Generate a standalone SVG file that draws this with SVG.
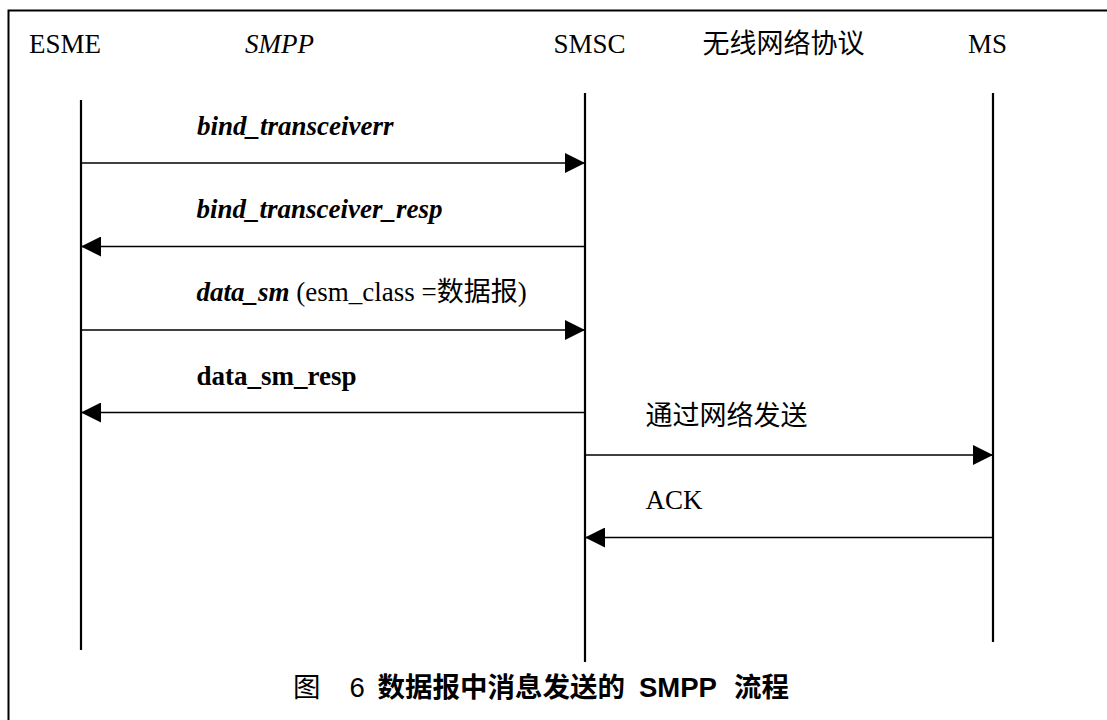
<svg xmlns="http://www.w3.org/2000/svg" width="1107" height="720" viewBox="0 0 1107 720">
  <style>
    .serif { font-family: "Liberation Serif", "Noto Sans CJK SC", serif; font-size: 27px; fill: #000; }
    .cjk { font-family: "Noto Sans CJK SC", sans-serif; font-size: 27px; fill: #000; }
    .bi { font-weight: bold; font-style: italic; }
    .b { font-weight: bold; }
    .i { font-style: italic; }
    .life { stroke: #000; stroke-width: 2.2; fill: none; }
    .msg { stroke: #000; stroke-width: 1.7; fill: none; marker-end: url(#head); }
    .caption { font-family: "Liberation Sans", "Noto Sans CJK SC", sans-serif; font-size: 27.5px; fill: #000; }
  </style>
  <defs>
    <marker id="head" markerUnits="userSpaceOnUse" markerWidth="20" markerHeight="20" refX="20" refY="10" orient="auto">
      <path d="M0,0 L20,10 L0,20 Z" fill="#000"/>
    </marker>
  </defs>

  <rect width="1107" height="720" fill="#fff"/>

  <!-- frame (top and left edges) -->
  <path d="M8.5,720 L8.5,10.5 L1107,10.5" stroke="#000" stroke-width="2" fill="none"/>

  <!-- participants -->
  <g id="esme">
    <text class="serif" x="29" y="53">ESME</text>
    <line class="life" x1="81" y1="100" x2="81" y2="650"/>
  </g>
  <g id="smpp-label">
    <text class="serif i" x="245" y="53">SMPP</text>
  </g>
  <g id="smsc">
    <text class="serif" x="553.5" y="53">SMSC</text>
    <line class="life" x1="585" y1="93" x2="585" y2="662"/>
  </g>
  <g id="radio-label">
    <text class="cjk" x="702.5" y="53">无线网络协议</text>
  </g>
  <g id="ms">
    <text class="serif" x="968" y="53">MS</text>
    <line class="life" x1="993" y1="93" x2="993" y2="642"/>
  </g>

  <!-- messages -->
  <g id="connectors">
    <line class="msg" x1="81" y1="163" x2="585" y2="163"/>
    <line class="msg" x1="585" y1="246.5" x2="81" y2="246.5"/>
    <line class="msg" x1="81" y1="330" x2="585" y2="330"/>
    <line class="msg" x1="585" y1="412.5" x2="81" y2="412.5"/>
    <line class="msg" x1="585" y1="455" x2="993" y2="455"/>
    <line class="msg" x1="993" y1="537.5" x2="585" y2="537.5"/>
  </g>

  <!-- message labels -->
  <g id="labels">
    <text class="serif bi" x="197" y="135">bind_transceiverr</text>
    <text class="serif bi" x="196.5" y="218">bind_transceiver_resp</text>
    <text class="serif" x="196.5" y="301"><tspan class="bi">data_sm</tspan> (esm_class =数据报)</text>
    <text class="serif b" x="196.5" y="385">data_sm_resp</text>
    <text class="cjk" x="645.5" y="425">通过网络发送</text>
    <text class="serif" x="645.5" y="509">ACK</text>
  </g>

  <!-- figure caption -->
  <g id="caption">
    <text class="caption" y="697"><tspan x="293">图</tspan><tspan x="349.5">6</tspan><tspan x="377.5" font-weight="bold">数据报中消息发送的</tspan><tspan x="639" font-weight="bold">SMPP</tspan><tspan x="734" font-weight="bold">流程</tspan></text>
  </g>
</svg>
